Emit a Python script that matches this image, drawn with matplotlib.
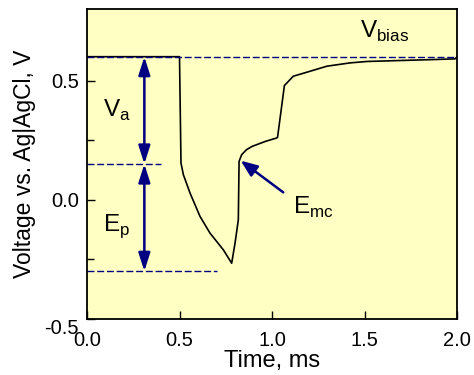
import numpy as np
import matplotlib.pyplot as plt

plt.rcParams['font.family'] = ['Liberation Sans', 'DejaVu Sans']

# potential transient
t = [0.0, 0.50, 0.508, 0.521, 0.557, 0.611, 0.665, 0.737, 0.782,
     0.80, 0.818, 0.822, 0.836, 0.862, 0.893, 0.965, 1.025, 1.03, 1.067,
     1.115, 1.206, 1.296, 1.422, 1.514, 1.694, 1.874, 1.99, 2.0]
v = [0.60, 0.60, 0.154, 0.105, 0.028, -0.07, -0.14, -0.21, -0.266,
     -0.183, -0.084, 0.161, 0.189, 0.21, 0.224, 0.245, 0.259, 0.262, 0.479,
     0.518, 0.539, 0.560, 0.574, 0.580, 0.584, 0.588, 0.591, 0.60]

v_bias = 0.60
v_mid = 0.15
v_low = -0.30
arrow_x = 0.31

navy = '#000080'

fig = plt.figure(figsize=(4.74, 3.75), dpi=100, facecolor='white')
ax = fig.add_axes([87 / 474, 56 / 375, 370 / 474, 310 / 375])
ax.set_facecolor('#ffffc4')

ax.plot(t, v, color='black', lw=1.2)

ax.axhline(v_bias, color=navy, ls=(0, (5, 2)), lw=1)
ax.plot([0, 0.40], [v_mid, v_mid], color=navy, ls=(0, (5, 2)), lw=1)
ax.plot([0, 0.70], [v_low, v_low], color=navy, ls=(0, (5, 2)), lw=1)

arrow_style = dict(arrowstyle='<|-|>,head_length=1.1,head_width=0.35',
                   color=navy, lw=1.8, shrinkA=0, shrinkB=0)
ax.annotate('', xy=(arrow_x, v_bias), xytext=(arrow_x, v_mid), arrowprops=arrow_style)
ax.annotate('', xy=(arrow_x, v_mid), xytext=(arrow_x, v_low), arrowprops=arrow_style)

ax.annotate('', xy=(0.831, 0.164), xytext=(1.061, 0.031),
            arrowprops=dict(arrowstyle='-|>,head_length=1.0,head_width=0.4',
                            color=navy, lw=1.8, shrinkA=0, shrinkB=0))

ax.text(0.085, 0.375, r'V$_\mathregular{a}$', fontsize=17.5, va='center')
ax.text(0.085, -0.11, r'E$_\mathregular{p}$', fontsize=17.5, va='center')
ax.text(1.115, -0.03, r'E$_\mathregular{mc}$', fontsize=17.5, va='center')
ax.text(1.475, 0.705, r'V$_\mathregular{bias}$', fontsize=17.5, va='center')

ax.set_xlim(0, 2.0)
ax.set_ylim(-0.5, 0.8)
ax.set_xticks([0.0, 0.5, 1.0, 1.5, 2.0])
ax.set_xticklabels(['0.0', '0.5', '1.0', '1.5', '2.0'])
ax.set_yticks([-0.5, 0.0, 0.5])
ax.set_yticklabels(['-0.5', '0.0', '0.5'])
ax.set_yticks([-0.25, 0.25], minor=True)
ax.tick_params(which='both', direction='in', labelsize=14.5, width=1)
ax.tick_params(which='major', length=6)
ax.tick_params(which='minor', length=5)
ax.tick_params(axis='x', pad=9)
ax.tick_params(axis='y', pad=6)
for lab in ax.get_yticklabels():
    if lab.get_text() == '-0.5':
        lab.set_va('top')

for s in ax.spines.values():
    s.set_linewidth(1.3)

ax.set_xlabel('Time, ms', fontsize=17, labelpad=0)
ax.set_ylabel('Voltage vs. Ag|AgCl, V', fontsize=16.5, labelpad=6)

fig.savefig('out.png', dpi=100)
